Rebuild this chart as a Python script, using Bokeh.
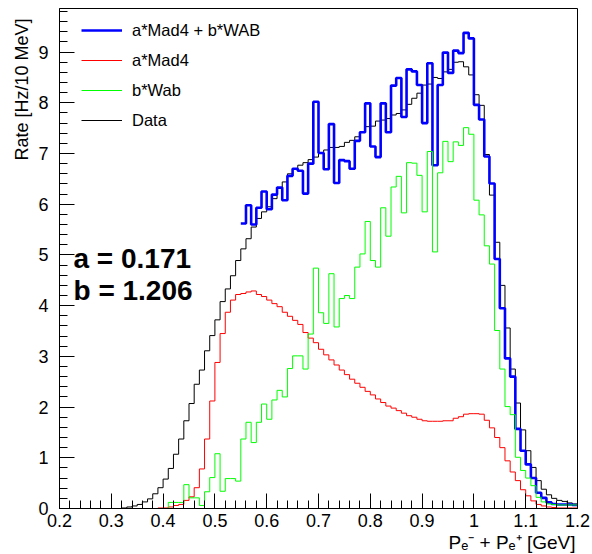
import numpy as np
from bokeh.plotting import figure
from bokeh.models import (Range1d, FixedTicker, CustomJSTickFormatter, Label,
                          Legend, LegendItem, Title)
from bokeh.embed import file_html
from bokeh.resources import INLINE

# ---------------- data (10 MeV bins from 0.20 to 1.20 GeV) ----------------
x_min, x_max = 0.2, 1.2
bin_width = 0.01

data_rate = [
    0, 0, 0, 0, 0, 0, 0, 0, 0, 0,
    0, 0, 0.01, 0.03, 0.05, 0.08, 0.13, 0.19, 0.29, 0.41,
    0.58, 0.79, 1.07, 1.37, 1.73, 2.07, 2.45, 2.73, 3.11, 3.41,
    3.72, 4.08, 4.33, 4.59, 4.89, 5.12, 5.32, 5.55, 5.72, 5.85,
    5.95, 6.11, 6.31, 6.44, 6.60, 6.70, 6.77, 6.82, 6.88, 6.93,
    7.00, 7.07, 7.12, 7.12, 7.14, 7.22, 7.26, 7.33, 7.43, 7.53,
    7.54, 7.64, 7.66, 7.69, 7.76, 7.79, 7.86, 7.97, 8.09, 8.19,
    8.35, 8.37, 8.50, 8.48, 8.61, 8.66, 8.80, 8.81, 8.71, 8.55,
    8.16, 7.95, 6.98, 6.18, 5.25, 4.40, 3.56, 2.75, 2.08, 1.55,
    1.14, 0.81, 0.55, 0.38, 0.27, 0.20, 0.16, 0.14, 0.11, 0.09,
]

mad4_rate = [
    0, 0, 0, 0, 0, 0, 0, 0, 0, 0,
    0, 0, 0, 0, 0, 0, 0, 0, 0, 0.01,
    0.01, 0.03, 0.06, 0.08, 0.16, 0.23, 0.41, 0.78, 1.37, 2.12,
    2.88, 3.45, 3.87, 4.11, 4.22, 4.24, 4.27, 4.29, 4.22, 4.18,
    4.11, 4.04, 3.98, 3.87, 3.79, 3.71, 3.63, 3.47, 3.36, 3.27,
    3.14, 3.03, 2.93, 2.83, 2.73, 2.64, 2.55, 2.47, 2.39, 2.31,
    2.24, 2.16, 2.09, 2.02, 1.98, 1.93, 1.88, 1.83, 1.80, 1.76,
    1.73, 1.72, 1.72, 1.72, 1.73, 1.73, 1.78, 1.81, 1.86, 1.87,
    1.87, 1.86, 1.74, 1.59, 1.40, 1.20, 0.94, 0.72, 0.55, 0.37,
    0.25, 0.15, 0.08, 0.05, 0.03, 0.02, 0.01, 0.01, 0.01, 0.01,
]

wab_rate = [
    0, 0, 0, 0, 0, 0, 0, 0, 0, 0,
    0, 0, 0, 0, 0, 0, 0, 0, 0, 0,
    0, 0.12, 0.12, 0.12, 0.47, 0.21, 0.21, 0.06, 0.33, 0.61,
    1.08, 0.34, 0.59, 0.59, 0.54, 1.37, 1.70, 1.30, 1.70, 2.06,
    1.76, 2.14, 2.33, 2.20, 2.76, 3.01, 3.01, 2.75, 3.44, 4.74,
    3.86, 3.65, 4.63, 3.58, 4.14, 4.20, 4.14, 4.76, 5.02, 5.66,
    4.89, 4.76, 5.93, 5.37, 6.34, 6.55, 5.83, 6.82, 6.81, 6.57,
    5.85, 7.04, 5.06, 6.62, 7.24, 6.84, 7.23, 7.16, 7.51, 7.38,
    6.08, 5.79, 5.18, 4.82, 3.51, 2.75, 2.01, 1.85, 1.01, 0.75,
    0.60, 0.45, 0.22, 0.13, 0.09, 0.08, 0.07, 0.07, 0.07, 0.07,
]

sum_start = 0.55
sum_rate = [
    5.62, 5.98, 5.60, 5.93, 6.25,
    5.90, 6.19, 6.33, 6.08, 6.56, 6.70, 6.66, 6.21, 6.80, 8.02,
    7.01, 6.69, 7.58, 6.42, 6.87, 6.85, 6.70, 7.25, 7.42, 7.99,
    7.14, 6.93, 7.99, 7.42, 8.34, 8.49, 7.72, 8.66, 8.62, 8.35,
    7.60, 8.78, 6.77, 8.35, 8.99, 8.59, 9.03, 8.98, 9.38, 9.27,
    7.96, 7.67, 6.94, 6.41, 4.92, 3.95, 2.96, 2.60, 1.57, 1.14,
    0.87, 0.60, 0.31, 0.21, 0.12, 0.09, 0.08, 0.08, 0.08, 0.07,
]

legend_labels = ["a*Mad4 + b*WAB", "a*Mad4", "b*Wab", "Data"]
fit_texts = ["a = 0.171", "b = 1.206"]
x_title = "P\u2091\u207b + P\u2091\u207a [GeV]"
y_title = "Rate [Hz/10 MeV]"

x_ticks = [0.2, 0.3, 0.4, 0.5, 0.6, 0.7, 0.8, 0.9, 1.0, 1.1, 1.2]
y_ticks = [0, 1, 2, 3, 4, 5, 6, 7, 8, 9]
y_max = 9.86

# ---------------- figure ----------------
FONT = "Liberation Sans"
p = figure(width=592, height=554, output_backend="svg", toolbar_location=None,
           x_range=Range1d(x_min, x_max), y_range=Range1d(0, y_max),
           min_border_left=59, min_border_right=15, min_border_top=8,
           min_border_bottom=46)
p.xgrid.visible = False
p.ygrid.visible = False
p.outline_line_color = "black"
p.outline_line_width = 1
p.background_fill_color = "white"
p.border_fill_color = "white"

fmt = CustomJSTickFormatter(code="return (Math.round(tick*100)/100).toString();")
p.xaxis.ticker = FixedTicker(
    ticks=x_ticks,
    minor_ticks=list(np.round(np.arange(x_min, x_max + 1e-9, 0.02), 3)))
p.yaxis.ticker = FixedTicker(
    ticks=y_ticks,
    minor_ticks=list(np.round(np.arange(0, y_max, 0.2), 3)))
for ax in (p.xaxis[0], p.yaxis[0]):
    ax.formatter = fmt
    ax.axis_line_color = "black"
    ax.major_tick_line_color = "black"
    ax.minor_tick_line_color = "black"
    ax.major_tick_in = 15
    ax.major_tick_out = 0
    ax.minor_tick_in = 8
    ax.minor_tick_out = 0
    ax.major_label_text_font = FONT
    ax.major_label_text_font_size = "18px"
    ax.major_label_text_color = "black"
    ax.axis_label = None
p.xaxis.major_label_standoff = 5
p.yaxis.major_label_standoff = 11

# axis titles, right-aligned to the end of each axis (ROOT style)
p.add_layout(Title(text=x_title, align="right", offset=2, standoff=0,
                   text_font=FONT, text_font_size="19px",
                   text_font_style="normal", text_color="black"), "below")
p.add_layout(Title(text=y_title, align="right", offset=10, standoff=8,
                   text_font=FONT, text_font_size="18px",
                   text_font_style="normal", text_color="black"), "left")


def step_xy(start, vals):
    edges = start + bin_width * np.arange(len(vals) + 1)
    ys = list(vals) + [vals[-1]]
    return edges, ys


xd, yd = step_xy(x_min, data_rate)
r_data = p.step(xd, yd, mode="after", line_color="black", line_width=1)
xm, ym = step_xy(x_min, mad4_rate)
r_mad = p.step(xm, ym, mode="after", line_color="#ff0000", line_width=1)
xs, ys = step_xy(sum_start, sum_rate)
r_sum = p.step(xs, ys, mode="after", line_color="#0000ff", line_width=2.6)
xw, yw = step_xy(x_min, wab_rate)
r_wab = p.step(xw, yw, mode="after", line_color="#00ff00", line_width=1)

legend = Legend(
    items=[LegendItem(label=legend_labels[0], renderers=[r_sum]),
           LegendItem(label=legend_labels[1], renderers=[r_mad]),
           LegendItem(label=legend_labels[2], renderers=[r_wab]),
           LegendItem(label=legend_labels[3], renderers=[r_data])],
    location=(22, 373), glyph_width=41, glyph_height=30, label_height=30,
    spacing=0, padding=0, margin=0, label_standoff=10,
    label_text_font=FONT, label_text_font_size="16.5px",
    label_text_color="black", border_line_alpha=0, background_fill_alpha=0)
p.add_layout(legend)

# fit parameters
p.add_layout(Label(x=x_min, y=0, x_offset=14, y_offset=250, text=fit_texts[0],
                   text_font=FONT, text_font_style="bold", text_color="black",
                   text_font_size="28px", text_baseline="alphabetic"))
p.add_layout(Label(x=x_min, y=0, x_offset=14, y_offset=218, text=fit_texts[1],
                   text_font=FONT, text_font_style="bold", text_color="black",
                   text_font_size="28px", text_baseline="alphabetic"))

open("out.html", "w").write(file_html(p, INLINE))
